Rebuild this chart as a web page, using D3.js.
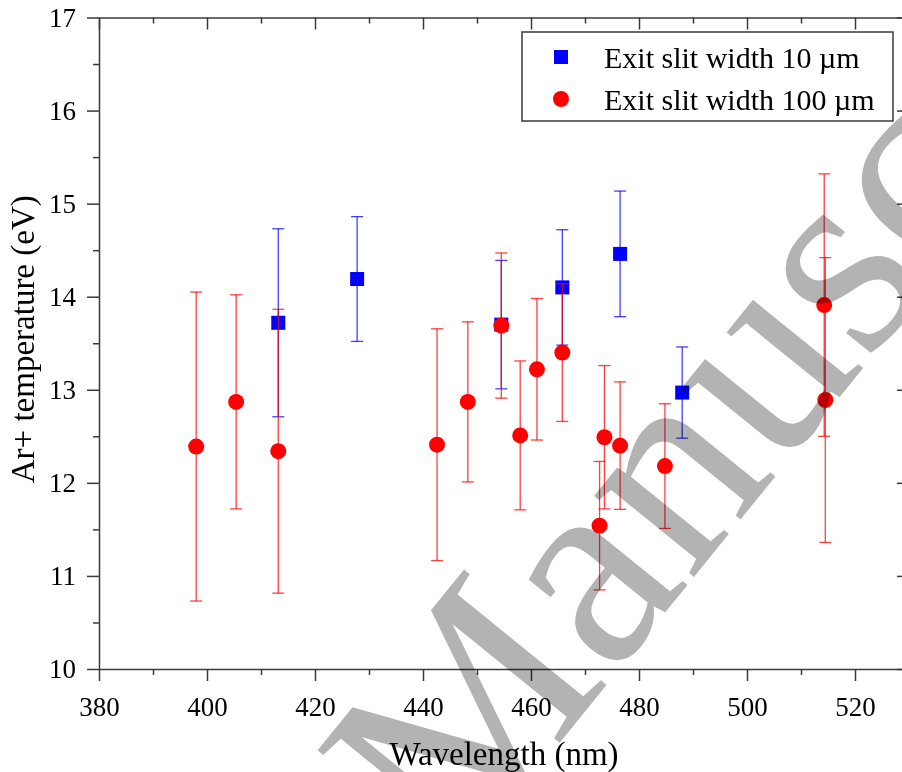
<!DOCTYPE html>
<html>
<head>
<meta charset="utf-8">
<script src="https://cdn.jsdelivr.net/npm/d3@7"></script>
<style>
  body { margin: 0; background: #fff; }
  svg { display: block; font-family: "Liberation Serif", "Times New Roman", serif; }
</style>
</head>
<body>
<svg id="chart"></svg>
<script>
// размеры
const width = 902;
const height = 772;

// данные: синие квадраты (щель 10 мкм)
const narrowWavelength = [413.2, 427.8, 454.5, 465.8, 476.5, 488.0];
const narrowTemp       = [13.72, 14.19, 13.70, 14.10, 14.46, 12.97];
const narrowErr        = [1.01, 0.67, 0.69, 0.62, 0.675, 0.49];

// красные круги (щель 100 мкм)
const wideWavelength = [398.0, 405.4, 413.2, 442.6, 448.3, 454.5, 458.0, 461.1, 465.8, 472.7, 473.6, 476.5, 484.8, 514.3, 514.5];
const wideTemp       = [12.39, 12.87, 12.34, 12.41, 12.87, 13.69, 12.51, 13.22, 13.40, 11.54, 12.49, 12.40, 12.18, 13.91, 12.89];
const wideErr        = [1.66, 1.15, 1.525, 1.245, 0.86, 0.78, 0.80, 0.76, 0.74, 0.69, 0.77, 0.685, 0.67, 1.41, 1.53];

const xTicks = [380, 400, 420, 440, 460, 480, 500, 520];
const yTicks = [10, 11, 12, 13, 14, 15, 16, 17];
const legendLabels = ["Exit slit width 10 \u00b5m", "Exit slit width 100 \u00b5m"];

const margin = { left: 99, right: 909, top: 17.5, bottom: 669 };

const svg = d3.select("#chart")
  .attr("width", width)
  .attr("height", height);

const x = d3.scaleLinear().domain([380, 530]).range([margin.left, margin.right]);
const y = d3.scaleLinear().domain([10, 17]).range([margin.bottom, margin.top]);

const axisColor = "#3a3a3a";

// оси
function styleAxis(g) {
  g.selectAll("path, line").attr("stroke", axisColor).attr("stroke-width", 1.5);
  g.selectAll("text").attr("fill", "#000").style("font-size", "27px")
    .style("font-family", "Liberation Serif, Times New Roman, serif");
}

const xMinor = d3.range(390, 531, 20);
const yMinor = d3.range(10.5, 17, 1);

// нижняя ось
const xAxis = svg.append("g").attr("transform", `translate(0,${margin.bottom})`)
  .call(d3.axisBottom(x).tickValues(xTicks).tickSize(12).tickSizeOuter(0).tickPadding(9).tickFormat(d3.format("d")));
styleAxis(xAxis);
xAxis.selectAll("text").attr("dy", "0.95em");
svg.append("g").attr("transform", `translate(0,${margin.bottom})`)
  .call(d3.axisBottom(x).tickValues(xMinor).tickSize(6).tickSizeOuter(0).tickFormat(""))
  .call(g => g.select(".domain").remove()).call(styleAxis);

// верхняя ось (тики внутрь)
svg.append("g").attr("transform", `translate(0,${margin.top})`)
  .call(d3.axisBottom(x).tickValues(xTicks).tickSize(12).tickSizeOuter(0).tickFormat(""))
  .call(styleAxis);
svg.append("g").attr("transform", `translate(0,${margin.top})`)
  .call(d3.axisBottom(x).tickValues(xMinor).tickSize(6).tickSizeOuter(0).tickFormat(""))
  .call(g => g.select(".domain").remove()).call(styleAxis);

// левая ось
const yAxis = svg.append("g").attr("transform", `translate(${margin.left},0)`)
  .call(d3.axisLeft(y).tickValues(yTicks).tickSize(12).tickSizeOuter(0).tickPadding(11).tickFormat(d3.format("d")));
styleAxis(yAxis);
svg.append("g").attr("transform", `translate(${margin.left},0)`)
  .call(d3.axisLeft(y).tickValues(yMinor).tickSize(6).tickSizeOuter(0).tickFormat(""))
  .call(g => g.select(".domain").remove()).call(styleAxis);

// правая ось (тики внутрь)
svg.append("g").attr("transform", `translate(${margin.right},0)`)
  .call(d3.axisLeft(y).tickValues(yTicks).tickSize(12).tickSizeOuter(0).tickFormat(""))
  .call(styleAxis);
svg.append("g").attr("transform", `translate(${margin.right},0)`)
  .call(d3.axisLeft(y).tickValues(yMinor).tickSize(6).tickSizeOuter(0).tickFormat(""))
  .call(g => g.select(".domain").remove()).call(styleAxis);

// подписи осей
svg.append("text")
  .attr("x", (margin.left + margin.right) / 2)
  .attr("y", 765)
  .attr("text-anchor", "middle")
  .style("font-size", "33px")
  .text("Wavelength (nm)");

svg.append("text")
  .attr("transform", `translate(34,${(margin.top + margin.bottom) / 2 - 4}) rotate(-90)`)
  .attr("text-anchor", "middle")
  .style("font-size", "33px")
  .text("Ar+ temperature (eV)");

// серия с погрешностями
function drawSeries(xs, ys, errs, color, shape) {
  const g = svg.append("g");
  const data = xs.map((v, i) => ({ x: v, y: ys[i], e: errs[i] }));
  const bars = g.selectAll("g.err").data(data).join("g").attr("class", "err")
    .attr("stroke", color).attr("stroke-width", 1.3).attr("stroke-opacity", 0.75);
  bars.append("line")
    .attr("x1", d => x(d.x)).attr("x2", d => x(d.x))
    .attr("y1", d => y(d.y - d.e)).attr("y2", d => y(d.y + d.e));
  bars.append("line")
    .attr("x1", d => x(d.x) - 6).attr("x2", d => x(d.x) + 6)
    .attr("y1", d => y(d.y + d.e)).attr("y2", d => y(d.y + d.e));
  bars.append("line")
    .attr("x1", d => x(d.x) - 6).attr("x2", d => x(d.x) + 6)
    .attr("y1", d => y(d.y - d.e)).attr("y2", d => y(d.y - d.e));
  if (shape === "square") {
    g.selectAll("rect").data(data).join("rect")
      .attr("x", d => x(d.x) - 7).attr("y", d => y(d.y) - 7)
      .attr("width", 14).attr("height", 14).attr("fill", color);
  } else {
    g.selectAll("circle").data(data).join("circle")
      .attr("cx", d => x(d.x)).attr("cy", d => y(d.y))
      .attr("r", 8).attr("fill", color);
  }
}

drawSeries(narrowWavelength, narrowTemp, narrowErr, "#0000ff", "square");
drawSeries(wideWavelength, wideTemp, wideErr, "#ff0000", "circle");

// легенда
const legend = svg.append("g");
legend.append("rect")
  .attr("x", 522).attr("y", 32).attr("width", 371).attr("height", 89)
  .attr("fill", "#fff").attr("stroke", axisColor).attr("stroke-width", 1.5);
legend.append("rect").attr("x", 554).attr("y", 50).attr("width", 14).attr("height", 14).attr("fill", "#0000ff");
legend.append("circle").attr("cx", 561).attr("cy", 99).attr("r", 8).attr("fill", "#ff0000");
legend.selectAll("text.lab").data(legendLabels).join("text").attr("class", "lab")
  .attr("x", 604).attr("y", (d, i) => 68 + i * 42)
  .style("font-size", "30px")
  .text(d => d);

// водяной знак
svg.append("text")
  .attr("transform", "translate(455,872) rotate(-51)")
  .style("font-size", "280px")
  .style("mix-blend-mode", "multiply")
  .attr("fill", "#b3b3b3")
  .text("Manuscript");
</script>
</body>
</html>
